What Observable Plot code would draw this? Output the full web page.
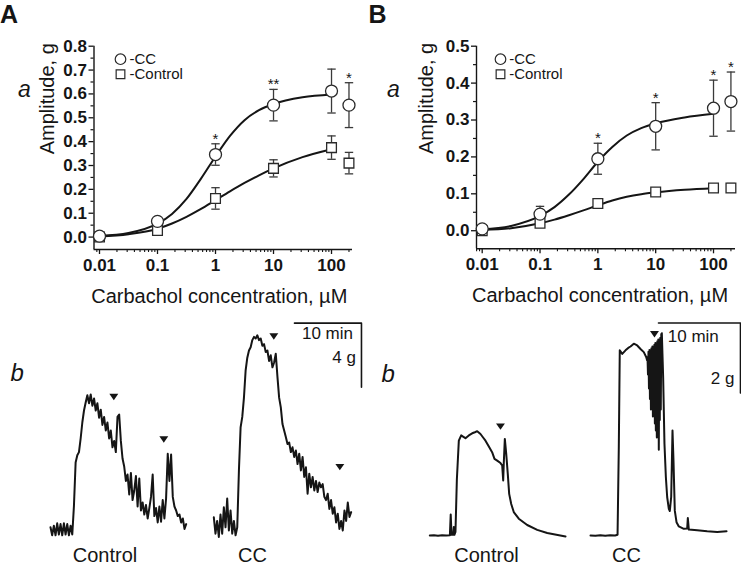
<!DOCTYPE html>
<html><head><meta charset="utf-8">
<script src="https://cdn.jsdelivr.net/npm/d3@7"></script>
<script src="https://cdn.jsdelivr.net/npm/@observablehq/plot@0.6"></script>
<style>
html,body{margin:0;padding:0;background:#fff;}
#root{position:relative;width:741px;height:567px;overflow:hidden;font-family:"Liberation Sans",Arial,Helvetica,sans-serif;color:#151515;}
.abs{position:absolute;}
.abs svg{display:block;overflow:visible;}
.lbl{position:absolute;white-space:nowrap;line-height:1;}
</style></head><body><div id="root"></div>
<script>
// ---------------- DATA ----------------
const concentrations = [0.01, 0.1, 1, 10, 100, 200];          // µM
// Panel A (a): mean amplitude (g) and SEM
const ccA        = [0.004, 0.066, 0.346, 0.553, 0.612, 0.553];
const ccA_sem    = [0, 0, 0.045, 0.066, 0.092, 0.094];
const controlA     = [0.0, 0.028, 0.162, 0.288, 0.375, 0.31];
const controlA_sem = [0, 0, 0.045, 0.036, 0.049, 0.045];
// Panel B (a)
const ccB        = [0.005, 0.045, 0.195, 0.283, 0.332, 0.35];
const ccB_sem    = [0, 0.021, 0.042, 0.064, 0.076, 0.08];
const controlB     = [0.0, 0.02, 0.074, 0.105, 0.116, 0.116];
const controlB_sem = [0, 0, 0, 0, 0.011, 0.012];
// significance marks
const starConcA = [1, 10, 200];      const starLabelA = ["*", "**", "*"];
const starConcB = [1, 10, 100, 200]; const starLabelB = ["*", "*", "*", "*"];
// legend entries
const legendLabels = ["-CC", "-Control"];
// fitted curves (log10 concentration -> amplitude)
const fitLogConc   = [-2, -1.5, -1, -0.75, -0.5, -0.25, 0, 0.25, 0.5, 0.75, 1, 1.5, 2];
const ccA_fit      = [0.005, 0.017, 0.056, 0.097, 0.16, 0.245, 0.338, 0.424, 0.49, 0.532, 0.558, 0.586, 0.598];
const controlA_fit = [0.002, 0.012, 0.035, 0.057, 0.085, 0.118, 0.155, 0.192, 0.227, 0.259, 0.288, 0.335, 0.368];
const ccB_fit      = [0.004, 0.013, 0.04, 0.064, 0.098, 0.14, 0.187, 0.227, 0.258, 0.278, 0.291, 0.307, 0.317];
const controlB_fit = [0.002, 0.007, 0.02, 0.03, 0.042, 0.055, 0.069, 0.082, 0.092, 0.099, 0.104, 0.111, 0.115];
const yTicksA = [0, 0.1, 0.2, 0.3, 0.4, 0.5, 0.6, 0.7, 0.8];
const yTicksB = [0, 0.1, 0.2, 0.3, 0.4, 0.5];
const xTickLabels = [0.01, 0.1, 1, 10, 100];

// Panel A (b) traces, force (g) sampled every 0.25 min
const traceDtA = 0.25;
const traceControlA = [0.2,-0.3,0.3,-0.3,0.45,-0.25,0.4,-0.3,0.45,-0.25,0.4,-0.3,0.3,-0.25,1.55,4.25,4.7,4.9,5.75,6.75,7.5,8.0,8.45,7.95,8.5,7.8,8.25,7.5,7.95,7.05,7.55,6.6,7.1,6.25,6.75,5.75,6.25,5.2,5.6,4.9,7.1,7.25,5.6,4.5,4.0,3.1,3.5,2.25,3.6,1.9,2.5,3.4,1.5,3.25,1.25,1.75,1.0,1.6,0.75,1.4,2.1,3.5,0.9,1.4,0.5,1.5,0.55,1.9,0.75,2.0,4.8,3.1,4.75,2.1,1.5,1.25,0.9,1.0,0.5,0.75,0.1,0.4];
const traceCCA = [0.83,-0.2,0.6,-0.4,1.0,-0.2,1.45,0.2,2.0,0,1.25,-0.2,0.6,-0.3,0.2,3.75,6.45,7.1,8.3,10.0,10.8,11.25,11.45,11.9,12.1,12.0,12.2,11.9,12.0,11.55,11.65,11.15,11.25,10.6,10.95,10.2,10.5,11.05,9.6,8.3,7.7,6.65,6.25,5.85,5.4,5.5,4.9,5.2,4.6,5.0,4.15,4.8,3.75,4.6,3.35,3.95,2.3,3.55,2.7,3.35,2.5,3.1,2.4,3.0,2.7,2.9,2.1,1.9,2.3,1.35,1.9,1.05,1.45,0.5,1.05,0.1,0.6,0,1.25,0.6,1.75,0.85,1.15];
// carbachol-addition markers [min, g]
const markersControlA = [[9.45, 8.38], [16.91, 5.73]];
const markersCCA      = [[8.96, 12.16], [18.81, 4.0]];
// Panel B (b) traces [min, g]
const traceControlB = [[0,0],[0.5,0.01],[1.0,-0.01],[1.5,0.01],[2.0,0],[2.45,0.01],[2.55,0.6],[2.65,0.02],[2.85,0.02],[2.93,0.24],[3.0,0.02],[3.13,0.1],[3.3,1.6],[3.54,2.71],[3.83,2.86],[4.1,2.82],[4.35,2.78],[4.76,2.86],[5.17,2.92],[5.5,2.95],[5.78,2.98],[6.18,2.9],[6.5,2.8],[6.79,2.71],[7.2,2.54],[7.6,2.38],[7.89,2.19],[8.22,2.14],[8.62,2.07],[8.83,2.0],[8.95,1.57],[9.02,2.05],[9.15,2.76],[9.32,2.33],[9.51,1.76],[9.68,1.19],[9.93,0.9],[10.24,0.67],[10.85,0.48],[11.88,0.3],[13.1,0.16],[14.32,0.07],[16.55,-0.03]];
const traceCCB = [[0,0],[0.6,-0.01],[1.2,0.01],[1.8,-0.01],[2.4,0.01],[3.0,0],[3.3,0.02],[3.45,2.5],[3.57,5.29],[3.87,5.19],[4.27,5.29],[4.6,5.36],[4.88,5.4],[5.28,5.48],[5.7,5.43],[6.1,5.33],[6.5,5.24],[6.79,5.1],[6.91,5.0],[6.95,5.1],[7.01,4.6],[7.07,5.25],[7.13,4.2],[7.19,5.3],[7.25,3.9],[7.31,5.3],[7.37,3.6],[7.43,5.35],[7.49,3.9],[7.55,5.4],[7.61,3.4],[7.67,5.4],[7.73,3.7],[7.79,5.45],[7.85,3.2],[7.91,5.5],[7.97,3.0],[8.03,5.5],[8.09,2.8],[8.15,5.55],[8.21,3.1],[8.27,5.6],[8.33,2.45],[8.39,5.6],[8.45,3.3],[8.51,5.65],[8.57,3.6],[8.63,5.75],[8.7,5.78],[8.86,4.52],[9.02,2.62],[9.19,1.67],[9.35,1.1],[9.55,0.76],[9.67,0.7],[9.84,1.1],[10.0,3.0],[10.12,2.14],[10.28,0.71],[10.49,0.38],[10.77,0.26],[11.38,0.19],[11.79,0.2],[11.87,0.5],[11.99,0.17],[13.01,0.15],[14.23,0.12],[15.45,0.1],[16.59,0.12]];
const markersControlB = [[8.62, 3.13]];
const markersCCB      = [[7.8, 5.77]];
// scale bars
const scaleBarA = {minutes: 10, grams: 4, minLabel: "10 min", gLabel: "4 g"};
const scaleBarB = {minutes: 10, grams: 2, minLabel: "10 min", gLabel: "2 g"};

// ---------------- DRAWING ----------------
const ink = "#151515";
const font = '"Liberation Sans", Arial, Helvetica, sans-serif';
const root = document.getElementById("root");
function place(node, left, top) {
  const d = document.createElement("div");
  d.className = "abs"; d.style.left = left + "px"; d.style.top = top + "px";
  d.appendChild(node); root.appendChild(d);
}
function label(text, left, top, css) {
  const d = document.createElement("div");
  d.className = "lbl"; d.textContent = text;
  d.style.left = left + "px"; d.style.top = top + "px";
  Object.assign(d.style, css || {});
  root.appendChild(d);
}
const capSymbol = {draw(ctx, size) { const w = Math.sqrt(size / Math.PI); ctx.moveTo(-w, 0); ctx.lineTo(w, 0); }};
const downTriangle = {draw(ctx, size) {
  const r = Math.sqrt(size / Math.PI), w = r * 1.35, h = r * 1.95;
  ctx.moveTo(-w, -h * 0.4); ctx.lineTo(w, -h * 0.4); ctx.lineTo(0, h * 0.6); ctx.closePath();
}};

function doseChart(cfg) {
  const pts = concentrations.map((c, i) => ({
    c,
    cc: cfg.cc[i], ccLo: cfg.cc[i] - cfg.ccSem[i], ccHi: cfg.cc[i] + cfg.ccSem[i], ccE: cfg.ccSem[i],
    ct: cfg.ctrl[i], ctLo: cfg.ctrl[i] - cfg.ctrlSem[i], ctHi: cfg.ctrl[i] + cfg.ctrlSem[i], ctE: cfg.ctrlSem[i]
  }));
  const fit = fitLogConc.map((L, i) => ({c: 10 ** L, cc: cfg.ccFit[i], ct: cfg.ctrlFit[i]}));
  const stars = cfg.starConc.map((c, i) => {
    const p = pts.find(d => d.c === c);
    return {c, y: p.ccHi, label: cfg.starLabel[i]};
  });
  const [x0, x1] = cfg.xDomain;
  const xMinor = [];
  for (const d of [0.001, 0.01, 0.1, 1, 10, 100]) for (let k = 2; k <= 9; k++) {
    const v = d * k; if (v >= x0 && v <= x1) xMinor.push(v);
  }
  const yStep = cfg.yTicks[1] - cfg.yTicks[0];
  const yMinor = cfg.yTicks.slice(0, -1).map(v => v + yStep / 2);
  const errColor = "#3a3a3a";
  const svg = Plot.plot({
    width: cfg.width, height: cfg.height,
    marginLeft: cfg.mL, marginRight: cfg.mR, marginTop: cfg.mT, marginBottom: cfg.mB,
    x: {type: "log", domain: cfg.xDomain, label: null},
    y: {domain: cfg.yDomain, label: null},
    style: {fontFamily: font, fontSize: "17px", fontWeight: "bold", color: ink, background: "transparent", overflow: "visible"},
    marks: [
      Plot.ruleX([x0], {stroke: ink, strokeWidth: 1.4}),
      Plot.ruleY([cfg.yDomain[0]], {stroke: ink, strokeWidth: 1.4}),
      Plot.axisY(cfg.yTicks, {tickSize: 5, tickPadding: 2, tickFormat: d3.format(".1f"), strokeWidth: 1.3, label: null}),
      Plot.axisY(yMinor, {tickSize: 3, tickFormat: () => "", strokeWidth: 1.2, label: null}),
      Plot.axisX(xTickLabels, {tickSize: 5, tickPadding: 4, tickFormat: d => String(d), strokeWidth: 1.3, label: null}),
      Plot.axisX(xMinor, {tickSize: 3, tickFormat: () => "", strokeWidth: 1.1, label: null}),
      // error bars
      Plot.ruleX(pts.filter(d => d.ctE > 0), {x: "c", y1: "ctLo", y2: "ctHi", stroke: errColor, strokeWidth: 1.3}),
      Plot.dot(pts.filter(d => d.ctE > 0), {x: "c", y: "ctHi", symbol: capSymbol, r: 4.2, stroke: errColor, strokeWidth: 1.3, fill: "none"}),
      Plot.dot(pts.filter(d => d.ctE > 0), {x: "c", y: "ctLo", symbol: capSymbol, r: 4.2, stroke: errColor, strokeWidth: 1.3, fill: "none"}),
      Plot.ruleX(pts.filter(d => d.ccE > 0), {x: "c", y1: "ccLo", y2: "ccHi", stroke: errColor, strokeWidth: 1.3}),
      Plot.dot(pts.filter(d => d.ccE > 0), {x: "c", y: "ccHi", symbol: capSymbol, r: 4.2, stroke: errColor, strokeWidth: 1.3, fill: "none"}),
      Plot.dot(pts.filter(d => d.ccE > 0), {x: "c", y: "ccLo", symbol: capSymbol, r: 4.2, stroke: errColor, strokeWidth: 1.3, fill: "none"}),
      // fitted curves
      Plot.line(fit, {x: "c", y: "ct", curve: "monotone-x", stroke: ink, strokeWidth: 2}),
      Plot.line(fit, {x: "c", y: "cc", curve: "monotone-x", stroke: ink, strokeWidth: 2}),
      // points
      Plot.dot(pts, {x: "c", y: "ct", symbol: "square", r: 5.5, fill: "white", stroke: "#2a2a2a", strokeWidth: 1.3}),
      Plot.dot(pts, {x: "c", y: "cc", symbol: "circle", r: 6, fill: "white", stroke: "#2a2a2a", strokeWidth: 1.3}),
      // significance
      Plot.text(stars, {x: "c", y: "y", text: "label", lineAnchor: "bottom", dy: 0, fontSize: 15, fontWeight: "normal", fill: ink}),
      // legend
      Plot.dot([0], {frameAnchor: "top-left", dx: cfg.legDot, dy: 13, symbol: "circle", r: 5.3, fill: "white", stroke: "#2a2a2a", strokeWidth: 1.2}),
      Plot.dot([0], {frameAnchor: "top-left", dx: cfg.legDot, dy: 28, symbol: "square", r: 4.9, fill: "white", stroke: "#2a2a2a", strokeWidth: 1.2}),
      Plot.text([legendLabels.join("\n")], {frameAnchor: "top-left", dx: cfg.legText, dy: 7.15, lineAnchor: "top", lineHeight: 1, textAnchor: "start", fontSize: 15, fontWeight: "normal"}),
      // axis titles
      Plot.text(["Amplitude, g"], {frameAnchor: "left", rotate: -90, dx: cfg.ylabDx, dy: 6.5, fontSize: 20, fontWeight: "normal"}),
      Plot.text(["Carbachol concentration, µM"], {frameAnchor: "bottom", dx: cfg.xlabDx, dy: 53, lineAnchor: "bottom", fontSize: 20, fontWeight: "normal"})
    ]
  });
  place(svg, cfg.left, cfg.top);
}

doseChart({
  left: 0, top: 0, width: 370, height: 310, mL: 93.5, mR: 18, mT: 45.7, mB: 61,
  xDomain: [0.00804, 230], yDomain: [-0.052, 0.8], yTicks: yTicksA,
  cc: ccA, ccSem: ccA_sem, ctrl: controlA, ctrlSem: controlA_sem, ccFit: ccA_fit, ctrlFit: controlA_fit,
  starConc: starConcA, starLabel: starLabelA, legDot: 26.5, legText: 35.5, ylabDx: -46.8, xlabDx: -4
});
doseChart({
  left: 370, top: 0, width: 371, height: 310, mL: 106, mR: 6, mT: 45.7, mB: 61.7,
  xDomain: [0.00797, 240], yDomain: [-0.049, 0.5], yTicks: yTicksB,
  cc: ccB, ccSem: ccB_sem, ctrl: controlB, ctrlSem: controlB_sem, ccFit: ccB_fit, ctrlFit: controlB_fit,
  starConc: starConcB, starLabel: starLabelB, legDot: 24, legText: 32.7, ylabDx: -50, xlabDx: -6
});

function tracePlot(cfg) {
  const xDomain = [-cfg.ox / cfg.pxMin, (cfg.width - cfg.ox) / cfg.pxMin];
  const yDomain = [(cfg.oy - cfg.height) / cfg.pxG, cfg.oy / cfg.pxG];
  const marks = [
    Plot.line(cfg.series, {x: "t", y: "g", stroke: ink, strokeWidth: 2, strokeLinejoin: "round"}),
    Plot.dot(cfg.markers.map(([t, g]) => ({t, g})), {x: "t", y: "g", symbol: downTriangle, r: 3.3, fill: ink, stroke: "none"})
  ];
  if (cfg.bar) {
    const b = cfg.bar, t1 = b.t + b.spec.minutes, g1 = b.g - b.spec.grams;
    marks.push(
      Plot.line([{t: b.t, g: b.g}, {t: t1, g: b.g}, {t: t1, g: g1}], {x: "t", y: "g", stroke: ink, strokeWidth: 1.6}),
      Plot.text([{t: b.minAt === "start" ? b.t : t1, g: b.g}], {x: "t", y: "g", text: () => b.spec.minLabel, textAnchor: b.minAt, dx: b.minDx, dy: b.minDy, lineAnchor: "bottom", fontSize: 17}),
      Plot.text([{t: t1, g: b.g}], {x: "t", y: "g", text: () => b.spec.gLabel, textAnchor: "end", dx: b.gDx, dy: b.gDy, lineAnchor: "bottom", fontSize: 17})
    );
  }
  const svg = Plot.plot({
    width: cfg.width, height: cfg.height, margin: 0,
    x: {domain: xDomain, axis: null}, y: {domain: yDomain, axis: null},
    style: {fontFamily: font, color: ink, background: "transparent", overflow: "visible"},
    marks
  });
  place(svg, cfg.left, cfg.top);
}

tracePlot({left: 45, top: 380, width: 145, height: 165, ox: 5, oy: 150, pxMin: 6.7, pxG: 16,
  series: traceControlA.map((g, i) => ({t: i * traceDtA, g})), markers: markersControlA});
tracePlot({left: 205, top: 315, width: 160, height: 230, ox: 8.3, oy: 215, pxMin: 6.7, pxG: 16,
  series: traceCCA.map((g, i) => ({t: i * traceDtA, g})), markers: markersCCA,
  bar: {spec: scaleBarA, t: 12.04, g: 12.96, minAt: "end", minDx: -8.5, minDy: 16.3, gDx: -5.5, gDy: 40.3}});
tracePlot({left: 420, top: 410, width: 150, height: 135, ox: 9.3, oy: 125, pxMin: 8.2, pxG: 35,
  series: traceControlB.map(([t, g]) => ({t, g})), markers: markersControlB});
tracePlot({left: 585, top: 315, width: 156, height: 230, ox: 5, oy: 220, pxMin: 8.2, pxG: 35,
  series: traceCCB.map(([t, g]) => ({t, g})), markers: markersCCB,
  bar: {spec: scaleBarB, t: 8.29, g: 6.07, minAt: "start", minDx: 9.3, minDy: 19.3, gDx: -6, gDy: 61.3}});

// panel letters and trace captions
label("A", 0, 1.5, {fontSize: "25px", fontWeight: "bold"});
label("B", 368.5, 1.5, {fontSize: "25px", fontWeight: "bold"});
label("a", 18, 77.5, {fontSize: "23px", fontStyle: "italic"});
label("a", 387, 77.5, {fontSize: "23px", fontStyle: "italic"});
label("b", 10.5, 361, {fontSize: "24px", fontStyle: "italic"});
label("b", 381.5, 361.5, {fontSize: "24px", fontStyle: "italic"});
const cap = {fontSize: "20px", lineHeight: "15px", transform: "translateX(-50%)"};
label("Control", 105, 547.5, cap);
label("CC", 252.5, 547.5, cap);
label("Control", 486.5, 547.5, cap);
label("CC", 626.5, 547.5, cap);
</script></body></html>
